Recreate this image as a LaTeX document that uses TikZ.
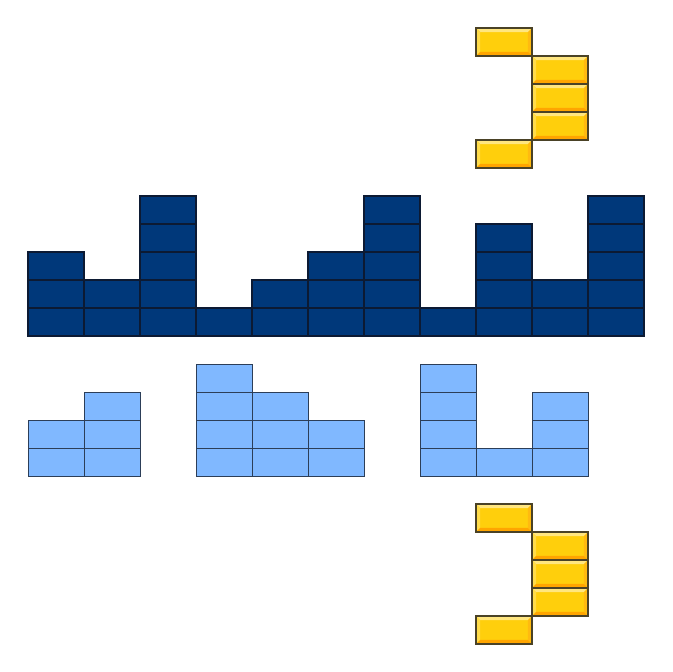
\documentclass[tikz,border=0pt]{standalone}
\definecolor{wallblue}{HTML}{00387A}
\definecolor{walledge}{HTML}{0C1A33}
\definecolor{waterblue}{HTML}{80B8FF}
\definecolor{wateredge}{HTML}{2C3E58}
\definecolor{goldmid}{HTML}{FFCF0C}
\definecolor{goldtop}{HTML}{FFE680}
\definecolor{goldleft}{HTML}{FFDC4A}
\definecolor{goldright}{HTML}{FFBA10}
\definecolor{goldbot}{HTML}{FFA500}
\definecolor{goldedge}{HTML}{4A4226}

\tikzset{
  wall/.style={fill=wallblue, draw=walledge, line width=1.2pt},
  water/.style={fill=waterblue, draw=wateredge, line width=1pt},
  gold/.pic={
    \fill[goldmid] (0,0) rectangle (2,1);
    \fill[goldtop] (0,0) -- (2,0) -- (1.85,0.15) -- (0.15,0.15) -- cycle;
    \fill[goldleft] (0,0) -- (0.15,0.15) -- (0.15,0.85) -- (0,1) -- cycle;
    \fill[goldright] (2,0) -- (2,1) -- (1.85,0.85) -- (1.85,0.15) -- cycle;
    \fill[goldbot] (0,1) -- (2,1) -- (1.85,0.85) -- (0.15,0.85) -- cycle;
    \draw[goldedge, line width=1.2pt] (0,0) rectangle (2,1);
  }
}

\begin{document}
\begin{tikzpicture}[x=28pt, y=-28pt]
\useasboundingbox (0,0) rectangle (24,24);
% wall of blocks
\foreach \h [count=\i from 0] in {3,2,5,1,2,3,5,1,4,2,5}
  \foreach \k in {1,...,\h}
    \draw[wall] (1+2*\i,12-\k) rectangle ++(2,1);
% water trapped between the walls
\foreach \i/\h in {0/2,1/3,3/4,4/3,5/2,7/4,8/1,9/3}
  \foreach \k in {1,...,\h}
    \draw[water] (1+2*\i,17-\k) rectangle ++(2,1);
% gold bars
\foreach \y in {0,17}
  \foreach \x/\r in {17/1,19/2,19/3,19/4,17/5}
    \pic at (\x,\y+\r) {gold};
\end{tikzpicture}
\end{document}
